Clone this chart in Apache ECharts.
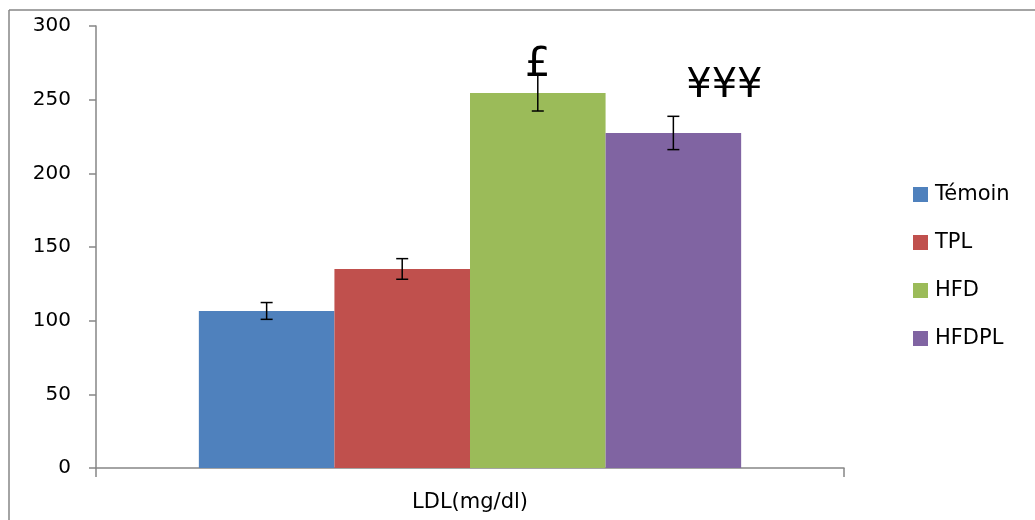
<!DOCTYPE html>
<html>
<head>
<meta charset="utf-8">
<script src="https://cdn.jsdelivr.net/npm/echarts@6/dist/echarts.min.js"></script>
<style>
html,body{margin:0;padding:0;background:#fff;}
#chart{width:1035px;height:520px;}
</style>
</head>
<body>
<div id="chart"></div>
<script>
const categories = ['LDL(mg/dl)'];
const seriesNames = ['Témoin', 'TPL', 'HFD', 'HFDPL'];
const seriesColors = ['#4F81BD', '#C0504D', '#9BBB59', '#8064A2'];
const means = [106.6, 135.1, 254.5, 227.4];
const errors = [5.7, 7.0, 12.2, 11.3];
const annotations = ['', '', '£', '¥¥¥'];
const yTicks = { min: 0, max: 300, interval: 50 };

const chart = echarts.init(document.getElementById('chart'));
const gapRatio = 0.275;
const font = "'DejaVu Sans', sans-serif";

const series = [];
seriesNames.forEach((name, i) => {
  series.push({
    name: name,
    type: 'bar',
    data: [means[i]],
    itemStyle: { color: seriesColors[i] },
    barGap: '0%',
    barCategoryGap: (gapRatio * 100) + '%',
    emphasis: { disabled: true }
  });
});
series.push({
  type: 'custom',
  silent: true,
  z: 10,
  data: means.map((m, i) => [0, m - errors[i], m + errors[i], i]),
  renderItem: function (params, api) {
    const idx = api.value(3);
    const catW = api.size([1, 0])[0];
    const bw = catW * (1 - gapRatio) / seriesNames.length;
    const cx = api.coord([0, 0])[0] + (idx - (seriesNames.length - 1) / 2) * bw;
    const lo = api.coord([0, api.value(1)])[1];
    const hi = api.coord([0, api.value(2)])[1];
    const cap = 6;
    const st = { stroke: '#000', lineWidth: 1.5 };
    const children = [
      { type: 'line', shape: { x1: cx, y1: lo, x2: cx, y2: hi }, style: st },
      { type: 'line', shape: { x1: cx - cap, y1: lo, x2: cx + cap, y2: lo }, style: st },
      { type: 'line', shape: { x1: cx - cap, y1: hi, x2: cx + cap, y2: hi }, style: st }
    ];
    const txt = annotations[idx];
    if (txt) {
      const dx = idx === 3 ? 51 : 0;
      const dy = idx === 3 ? -30 : -9.5;
      children.push({
        type: 'text',
        style: {
          text: txt, x: cx + dx, y: hi + dy,
          align: 'center', verticalAlign: 'middle',
          font: "40px 'DejaVu Sans', sans-serif", fill: '#000'
        }
      });
    }
    return { type: 'group', children: children };
  }
});

chart.setOption({
  animation: false,
  backgroundColor: '#fff',
  grid: { left: 96, right: 191, top: 26, bottom: 52, containLabel: false },
  legend: {
    orient: 'vertical',
    left: 913, top: 184, padding: 0,
    itemWidth: 15, itemHeight: 15, itemGap: 27,
    icon: 'rect',
    data: seriesNames,
    textStyle: { fontSize: 21, lineHeight: 21, color: '#000', fontFamily: font, padding: [0, 0, 0, 2] }
  },
  graphic: [
    { type: 'line', shape: { x1: 9, y1: 10, x2: 1035, y2: 10 }, style: { stroke: '#868686', lineWidth: 1.5 } },
    { type: 'line', shape: { x1: 9, y1: 10, x2: 9, y2: 520 }, style: { stroke: '#868686', lineWidth: 1.5 } }
  ],
  xAxis: {
    type: 'category',
    data: categories,
    axisLine: { lineStyle: { color: '#868686', width: 1.5 } },
    axisTick: { show: true, length: 9, lineStyle: { color: '#868686', width: 1.5 } },
    axisLabel: { fontSize: 21, color: '#000', fontFamily: font, margin: 24 }
  },
  yAxis: {
    type: 'value',
    min: yTicks.min, max: yTicks.max, interval: yTicks.interval,
    splitLine: { show: false },
    axisLine: { show: true, lineStyle: { color: '#868686', width: 1.5 } },
    axisTick: { show: true, length: 7, lineStyle: { color: '#868686', width: 1.5 } },
    axisLabel: { fontSize: 20, color: '#000', fontFamily: font, margin: 25 }
  },
  series: series
});
</script>
</body>
</html>
